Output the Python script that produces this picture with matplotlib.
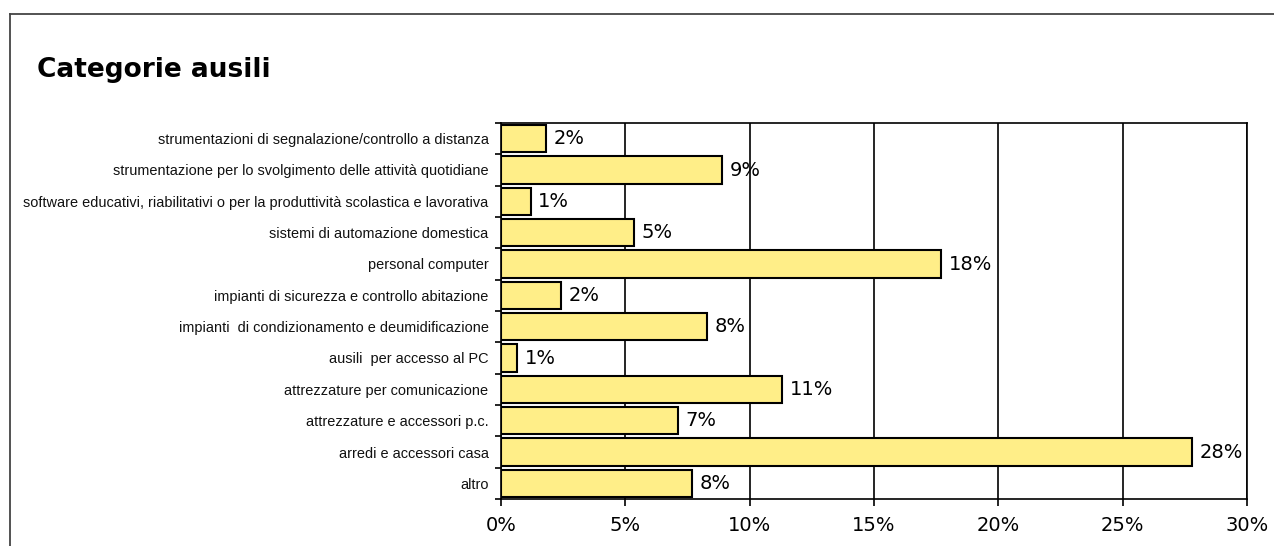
import matplotlib
matplotlib.use("Agg")
import matplotlib.pyplot as plt
from matplotlib.lines import Line2D
from matplotlib.ticker import FuncFormatter, FixedLocator

title = "Categorie ausili"
categories = [
    "strumentazioni di segnalazione/controllo a distanza",
    "strumentazione per lo svolgimento delle attività quotidiane",
    "software educativi, riabilitativi o per la produttività scolastica e lavorativa",
    "sistemi di automazione domestica",
    "personal computer",
    "impianti di sicurezza e controllo abitazione",
    "impianti  di condizionamento e deumidificazione",
    "ausili  per accesso al PC",
    "attrezzature per comunicazione",
    "attrezzature e accessori p.c.",
    "arredi e accessori casa",
    "altro",
]
values = [1.8, 8.9, 1.2, 5.35, 17.7, 2.4, 8.3, 0.65, 11.3, 7.1, 27.8, 7.7]
value_labels = ["2%", "9%", "1%", "5%", "18%", "2%", "8%", "1%", "11%", "7%", "28%", "8%"]
x_ticks = [0, 5, 10, 15, 20, 25, 30]

W, H = 1274, 546
fig = plt.figure(figsize=(W / 100, H / 100), dpi=100)
fig.patch.set_facecolor("white")

left, right, top, bottom = 501, 1247, 123, 499
ax = fig.add_axes([left / W, 1 - bottom / H, (right - left) / W, (bottom - top) / H])

n = len(categories)
ypos = list(range(n))[::-1]
ax.barh(ypos, values, height=0.88, color="#FFEE88", edgecolor="black", linewidth=1.5, zorder=3)
ax.set_xlim(0, 30)
ax.set_ylim(-0.5, n - 0.5)

ax.xaxis.set_major_locator(FixedLocator(x_ticks))
ax.xaxis.set_major_formatter(FuncFormatter(lambda v, p: f"{int(v)}%"))
ax.grid(axis="x", color="black", linewidth=1.2, zorder=1)
ax.set_axisbelow(True)

ax.set_yticks(ypos)
ax.set_yticklabels(categories, family=["Liberation Sans", "DejaVu Sans"], fontsize=10.45, color="#111111")
ax.yaxis.set_minor_locator(FixedLocator([i - 0.5 for i in range(n + 1)]))
ax.tick_params(axis="y", which="major", length=0, pad=9)
ax.tick_params(axis="y", which="minor", length=4, width=1.2, color="black")
ax.tick_params(axis="x", length=5, width=1.2, labelsize=14, pad=7)
for lbl in ax.get_xticklabels():
    lbl.set_family("DejaVu Sans")

for s in ax.spines.values():
    s.set_color("black")
    s.set_linewidth(1.2)

for y, v, t in zip(ypos, values, value_labels):
    ax.text(v + 0.3, y, t, va="center", ha="left", fontsize=14, family="DejaVu Sans", zorder=4)

fig.text(37 / W, 1 - 70 / H, title, fontsize=19, fontweight="bold", family="DejaVu Sans",
         va="center", ha="left")

fig.add_artist(Line2D([10 / W, 1], [1 - 14 / H, 1 - 14 / H], transform=fig.transFigure,
                      color="#444444", linewidth=1.3))
fig.add_artist(Line2D([10 / W, 10 / W], [1 - 14 / H, 0], transform=fig.transFigure,
                      color="#444444", linewidth=1.3))

fig.savefig("out.png", dpi=100)
